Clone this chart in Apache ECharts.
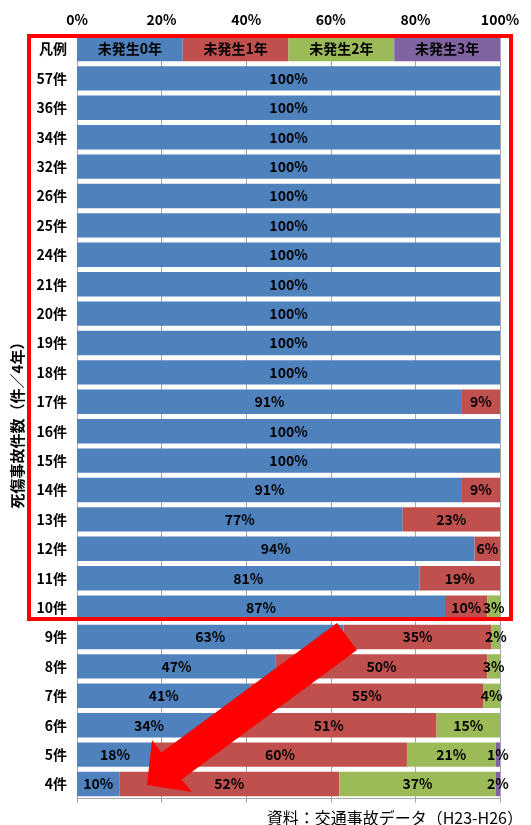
<!DOCTYPE html>
<html>
<head>
<meta charset="utf-8">
<style>
  html, body { margin: 0; padding: 0; background: #fff; }
  #chart { width: 531px; height: 825px; }
</style>
<script src="https://cdn.jsdelivr.net/npm/echarts@6/dist/echarts.min.js"></script>
</head>
<body>
<div id="chart"></div>
<script>
// Rows: number of injury/fatal accidents per 4 years (top to bottom)
const cases = ['57件','36件','34件','32件','26件','25件','24件','21件','20件','19件','18件','17件','16件','15件','14件','13件','12件','11件','10件','9件','8件','7件','6件','5件','4件'];

// Share of locations (%) by number of accident-free years
const none0 = [100,100,100,100,100,100,100,100,100,100,100,91,100,100,91,77,94,81,87,63,47,41,34,18,10];
const none1 = [0,0,0,0,0,0,0,0,0,0,0,9,0,0,9,23,6,19,10,35,50,55,51,60,52];
const none2 = [0,0,0,0,0,0,0,0,0,0,0,0,0,0,0,0,0,0,3,2,3,4,15,21,37];
const none3 = [0,0,0,0,0,0,0,0,0,0,0,0,0,0,0,0,0,0,0,0,0,0,0,1,2];

const seriesNames = ['未発生0年','未発生1年','未発生2年','未発生3年'];
const seriesColors = ['#4F81BD','#C0504D','#9BBB59','#8064A2'];
const xTicks = [0, 20, 40, 60, 80, 100];

// First row is an in-chart key: four equal cells carrying the series names
const keyLabel = '凡例';
const keyCell = 25;

const categories = [keyLabel].concat(cases);
const font = '"Noto Sans CJK JP", "Noto Sans", sans-serif';

const chart = echarts.init(document.getElementById('chart'), null, { renderer: 'canvas' });

const series = [none0, none1, none2, none3].map((vals, i) => ({
  name: seriesNames[i],
  type: 'bar',
  stack: 'share',
  barCategoryGap: '17%',
  xAxisIndex: 0,
  itemStyle: { color: seriesColors[i] },
  data: [keyCell].concat(vals.map(v => (v > 0 ? v : null))),
  label: {
    show: true,
    position: 'inside',
    color: '#000',
    fontFamily: font,
    fontWeight: 'bold',
    fontSize: 14,
    formatter: p => (p.dataIndex === 0 ? p.seriesName : p.value + '%')
  },
  emphasis: { disabled: true }
}));

chart.setOption({
  animation: false,
  backgroundColor: '#fff',
  grid: { left: 77, right: 31, top: 34.3, bottom: 26.3, containLabel: false },
  xAxis: [
    {
      type: 'value',
      position: 'top',
      min: 0,
      max: 100,
      interval: 20,
      axisLine: { show: false },
      axisTick: { show: false },
      axisLabel: {
        color: '#000',
        fontFamily: font,
        fontWeight: 'bold',
        fontSize: 14,
        margin: 8,
        formatter: v => (xTicks.includes(v) ? v + '%' : '')
      },
      splitLine: { show: true, lineStyle: { color: '#A6A6A6', width: 1 } }
    },
    {
      type: 'value',
      position: 'bottom',
      min: 0,
      max: 100,
      interval: 20,
      axisLine: { show: true, lineStyle: { color: '#A6A6A6' } },
      axisTick: { show: true, length: 4, lineStyle: { color: '#A6A6A6' } },
      axisLabel: { show: false },
      splitLine: { show: false }
    }
  ],
  yAxis: {
    type: 'category',
    inverse: true,
    data: categories,
    axisLine: { show: true, lineStyle: { color: '#A6A6A6' } },
    axisTick: { show: false },
    axisLabel: {
      color: '#000',
      fontFamily: font,
      fontWeight: 'bold',
      fontSize: 14,
      margin: 10
    },
    name: '死傷事故件数（件／4年）',
    nameLocation: 'middle',
    nameRotate: 90,
    nameGap: 52,
    nameTextStyle: {
      color: '#000',
      fontFamily: font,
      fontWeight: 'bold',
      fontSize: 15,
      padding: [0, 10, 0, 0]
    }
  },
  series: series,
  graphic: [
    {
      // highlight frame around the upper block of rows
      type: 'rect',
      z: 100,
      shape: { x: 29, y: 36, width: 482, height: 583 },
      style: { fill: 'none', stroke: '#FF0000', lineWidth: 4 }
    },
    {
      // arrow pointing to the low-count rows
      type: 'polygon',
      z: 101,
      shape: {
        points: [
          [337, 623], [357, 650], [181.6, 779.4], [192, 792],
          [147, 785], [152, 740], [161.4, 752.6]
        ]
      },
      style: { fill: '#FF0000' }
    },
    {
      type: 'text',
      z: 101,
      right: 8,
      top: 810,
      style: {
        text: '資料：交通事故データ（H23-H26）',
        fill: '#000',
        font: '16px ' + font
      }
    }
  ]
});
</script>
</body>
</html>
